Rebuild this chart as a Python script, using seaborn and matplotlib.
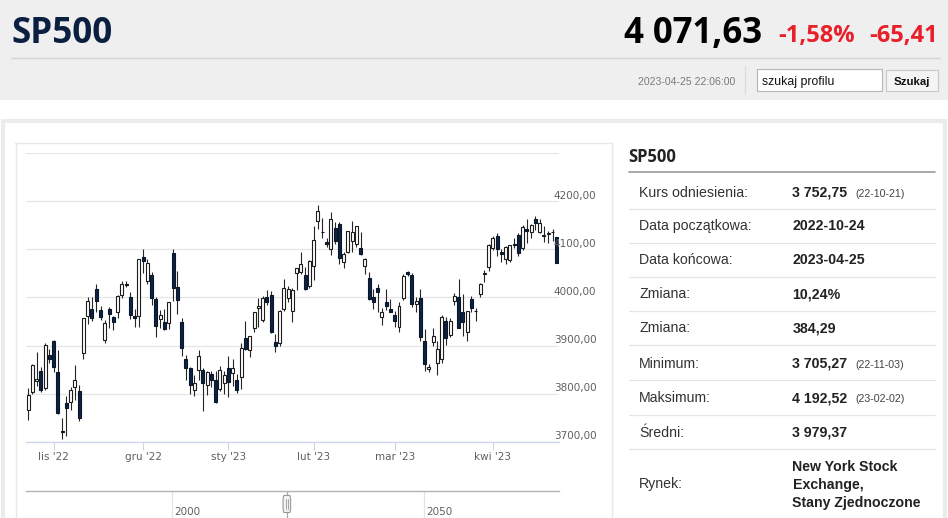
import numpy as np
import pandas as pd
import matplotlib
matplotlib.use("Agg")
import matplotlib.pyplot as plt
import matplotlib.patches as mpatches
import matplotlib.transforms as mtransforms
from matplotlib.lines import Line2D
import seaborn as sns

# sesje (2022-12-07 brak w danych zrodla)
dates = [
    "2022-10-24", "2022-10-25", "2022-10-26", "2022-10-27", "2022-10-28", "2022-10-31",
    "2022-11-01", "2022-11-02", "2022-11-03", "2022-11-04", "2022-11-07", "2022-11-08", "2022-11-09",
    "2022-11-10", "2022-11-11", "2022-11-14", "2022-11-15", "2022-11-16", "2022-11-17", "2022-11-18",
    "2022-11-21", "2022-11-22", "2022-11-23", "2022-11-25", "2022-11-28", "2022-11-29", "2022-11-30",
    "2022-12-01", "2022-12-02", "2022-12-05", "2022-12-06", "2022-12-08", "2022-12-09", "2022-12-12",
    "2022-12-13", "2022-12-14", "2022-12-15", "2022-12-16", "2022-12-19", "2022-12-20", "2022-12-21",
    "2022-12-22", "2022-12-23", "2022-12-27", "2022-12-28", "2022-12-29", "2022-12-30",
    "2023-01-03", "2023-01-04", "2023-01-05", "2023-01-06", "2023-01-09", "2023-01-10", "2023-01-11",
    "2023-01-12", "2023-01-13", "2023-01-17", "2023-01-18", "2023-01-19", "2023-01-20", "2023-01-23",
    "2023-01-24", "2023-01-25", "2023-01-26", "2023-01-27", "2023-01-30", "2023-01-31",
    "2023-02-01", "2023-02-02", "2023-02-03", "2023-02-06", "2023-02-07", "2023-02-08", "2023-02-09",
    "2023-02-10", "2023-02-13", "2023-02-14", "2023-02-15", "2023-02-16", "2023-02-17", "2023-02-21",
    "2023-02-22", "2023-02-23", "2023-02-24", "2023-02-27", "2023-02-28",
    "2023-03-01", "2023-03-02", "2023-03-03", "2023-03-06", "2023-03-07", "2023-03-08", "2023-03-09",
    "2023-03-10", "2023-03-13", "2023-03-14", "2023-03-15", "2023-03-16", "2023-03-17", "2023-03-20",
    "2023-03-21", "2023-03-22", "2023-03-23", "2023-03-24", "2023-03-27", "2023-03-28", "2023-03-29",
    "2023-03-30", "2023-03-31",
    "2023-04-03", "2023-04-04", "2023-04-05", "2023-04-06", "2023-04-10", "2023-04-11", "2023-04-12",
    "2023-04-13", "2023-04-14", "2023-04-17", "2023-04-18", "2023-04-19", "2023-04-20", "2023-04-21",
    "2023-04-24", "2023-04-25",
]
opens = [
    3766, 3803, 3826, 3848, 3811, 3880,
    3910, 3844, 3722, 3781, 3783, 3814, 3806,
    3885, 3961, 3975, 4018, 3974, 3912, 3975,
    3959, 3970, 4005, 4027, 4000, 3961, 3962,
    4085, 4034, 4047, 3996, 3955, 3948, 3946,
    4093, 4021, 3948, 3871, 3853, 3808, 3849,
    3849, 3818, 3841, 3828, 3809, 3823,
    3853, 3842, 3828, 3835, 3915, 3891, 3936,
    3979, 3953, 4001, 4005, 3908, 3906, 3975,
    3998, 3972, 4050, 4052, 4047, 4024,
    4066, 4158, 4137, 4115, 4101, 4144, 4152,
    4074, 4095, 4118, 4111, 4102, 4066, 4040,
    4001, 4020, 3960, 3991, 3977,
    3964, 3939, 3998, 4052, 4047, 3987, 3999,
    3909, 3851, 3908, 3864, 3871, 3952, 3922,
    3993, 4001, 3970, 3929, 3996, 3972, 4007,
    4048, 4063,
    4102, 4128, 4095, 4079, 4078, 4111, 4130,
    4102, 4142, 4137, 4163, 4137, 4127, 4131,
    4136, 4126,
]
highs = [
    3811, 3862, 3886, 3855, 3905, 3893,
    3912, 3891, 3750, 3796, 3814, 3859, 3818,
    3958, 4001, 4000, 4029, 3983, 3954, 3980,
    3962, 4006, 4034, 4034, 4012, 3977, 4080.11,
    4100, 4080, 4052, 4001, 3974, 3977, 3991,
    4101, 4054, 3958, 3881, 3855, 3838, 3890,
    3853, 3846, 3847, 3848, 3858, 3846,
    3878, 3873, 3840, 3906, 3951, 3920, 3970,
    3998, 4004, 4015, 4014, 3923, 3973, 4039,
    4024, 4020, 4062, 4094, 4064, 4077,
    4149, 4192.52, 4166, 4124, 4177, 4157, 4156,
    4094, 4139, 4160, 4148, 4137, 4082, 4052,
    4017, 4028, 3978, 4018, 3997,
    3972, 3991, 4048, 4056, 4050, 4000, 4018,
    3934, 3862, 3937, 3910, 3964, 3959, 3957,
    4009, 4039, 4007, 3972, 4003, 3979, 4031,
    4058, 4111,
    4128, 4133, 4100, 4107, 4110, 4124, 4134,
    4150, 4163, 4152, 4169, 4163, 4149, 4138,
    4142, 4126.43,
]
lows = [
    3745, 3800, 3815, 3803, 3808, 3863,
    3844, 3758, 3705.27, 3712, 3765, 3786, 3744,
    3873, 3945, 3952, 3970, 3954, 3906, 3936,
    3933, 3957, 3999, 4021, 3956, 3938, 3939,
    4051, 4027, 3984, 3918, 3936, 3933, 3935,
    3993, 3966, 3879, 3828, 3800, 3796, 3828,
    3764, 3797, 3813, 3781, 3806, 3800,
    3794, 3816, 3802, 3810, 3890, 3877, 3929,
    3938, 3948, 3985, 3927, 3886, 3898, 3972,
    3990, 3949, 4015, 4049, 4016, 4020,
    4037, 4142, 4123, 4104, 4088, 4112, 4070,
    4061, 4093, 4095, 4104, 4089, 4048, 3995,
    3977, 3969, 3943, 3974, 3969,
    3939, 3928, 3995, 4045, 3980, 3970, 3909,
    3846, 3845, 3898, 3838, 3864, 3901, 3917,
    3985, 3936, 3919, 3909, 3970, 3952, 4000,
    4032, 4056,
    4099, 4087, 4073, 4070, 4073, 4103, 4087,
    4099, 4113, 4123, 4140, 4134, 4115, 4114,
    4118, 4071.38,
]
closes = [
    3797.34, 3859.11, 3830.60, 3807.30, 3901.06, 3871.98,
    3856.10, 3759.69, 3719.89, 3770.55, 3806.80, 3828.11, 3748.57,
    3956.37, 3992.93, 3957.25, 3991.73, 3958.79, 3946.56, 3965.34,
    3949.94, 4003.58, 4027.26, 4026.12, 3963.94, 3957.63, 4080.11,
    4076.57, 4071.70, 3998.84, 3941.26, 3963.51, 3934.38, 3990.56,
    4019.65, 3995.32, 3895.75, 3852.36, 3817.66, 3821.62, 3878.44,
    3822.39, 3844.82, 3829.25, 3783.22, 3849.28, 3839.50,
    3824.14, 3852.97, 3808.10, 3895.08, 3892.09, 3919.25, 3969.61,
    3983.17, 3999.09, 3990.97, 3928.86, 3898.85, 3972.61, 4019.81,
    4016.95, 4016.22, 4060.43, 4070.56, 4017.77, 4076.60,
    4119.21, 4179.76, 4136.48, 4111.08, 4164.00, 4117.86, 4081.50,
    4090.46, 4137.29, 4136.13, 4147.60, 4090.41, 4079.09, 3997.34,
    3991.05, 4012.32, 3970.04, 3982.24, 3970.15,
    3951.39, 3981.35, 4045.64, 4048.42, 3986.37, 3992.01, 3918.32,
    3861.59, 3855.76, 3919.29, 3891.93, 3960.28, 3916.64, 3951.57,
    4002.87, 3936.97, 3948.72, 3970.99, 3977.53, 3971.27, 4027.81,
    4050.83, 4109.31,
    4124.51, 4100.60, 4090.38, 4105.02, 4109.11, 4108.94, 4091.95,
    4146.22, 4137.64, 4151.32, 4154.87, 4154.52, 4129.79, 4133.52,
    4137.04, 4071.63,
]

month_ticks = ["2022-11-01", "2022-12-01", "2023-01-03", "2023-02-01", "2023-03-01", "2023-04-03"]
month_labels = ["lis '22", "gru '22", "sty '23", "lut '23", "mar '23", "kwi '23"]
grid_levels = [3700, 3800, 3900, 4000, 4100, 4200, 4300]
price_labels = ["3700,00", "3800,00", "3900,00", "4000,00", "4100,00", "4200,00"]
nav_ticks = [2000, 2050]
nav_handle = 2022.8

table_labels = ["Kurs odniesienia:", "Data początkowa:", "Data końcowa:", "Zmiana:", "Zmiana:",
                "Minimum:", "Maksimum:", "Średni:"]
table_values = ["3 752,75", "2022-10-24", "2023-04-25", "10,24%", "384,29",
                "3 705,27", "4 192,52", "3 979,37"]
table_notes = ["(22-10-21)", "", "", "", "", "(22-11-03)", "(23-02-02)", ""]
market_label = "Rynek:"
market_lines = ["New York Stock", "Exchange,", "Stany Zjednoczone"]

sns.set_theme(style="white")
plt.rcParams["font.family"] = ["DejaVu Sans"]

W, H = 948, 518
fig = plt.figure(figsize=(W / 100, H / 100), dpi=100)
fig.patch.set_facecolor("white")


def fx(x):
    return x / W


def fy(y):
    return 1 - y / H


def ptext(x, y, s, **kw):
    fig.text(fx(x), fy(y), s, va="baseline", **kw)


def hline(x0, x1, y, color, lw=0.72, z=-1):
    fig.add_artist(Line2D([fx(x0), fx(x1)], [fy(y), fy(y)], color=color, lw=lw,
                          transform=fig.transFigure, zorder=z))


def vline(x, y0, y1, color, lw=0.72, z=-1):
    fig.add_artist(Line2D([fx(x), fx(x)], [fy(y0), fy(y1)], color=color, lw=lw,
                          transform=fig.transFigure, zorder=z))


def prect(x0, y0, x1, y1, z=-2, **kw):
    fig.add_artist(mpatches.Rectangle((fx(x0), fy(y1)), fx(x1) - fx(x0), fy(y0) - fy(y1),
                                      transform=fig.transFigure, zorder=z, **kw))


# naglowek
prect(0, 0, 948, 100, facecolor="#efefef", edgecolor="none")
hline(11, 940, 57.7, "#d4d4d4", 1.0)
head = dict(family=["Open Sans", "DejaVu Sans"], weight="bold")
ptext(11, 42.7, "SP500", color="#0b1f40", fontsize=25.2, **head)
ptext(762, 43.3, "4 071,63", color="black", fontsize=25, ha="right", **head)
ptext(778, 41.7, "-1,58%", color="#e8202a", fontsize=17, **head)
ptext(938, 41.7, "-65,41", color="#e8202a", fontsize=17, ha="right", **head)
arial = ["Liberation Sans", "DejaVu Sans"]
ptext(735, 85, "2023-04-25 22:06:00", color="#7a7a7a", fontsize=7.6, ha="right", family=arial)
vline(745, 66, 94, "#dcdcdc", 1.0)
prect(757, 69, 881.5, 91, z=-1, facecolor="white", edgecolor="#b5b5b5", lw=0.8)
ptext(761.5, 84.5, "szukaj profilu", color="#111111", fontsize=8.8, family=arial)
prect(886, 69.5, 937.5, 91, z=-1, facecolor="#f4f4f4", edgecolor="#c8c8c8", lw=0.8)
ptext(911.7, 84.5, "Szukaj", color="#111111", fontsize=8.2, weight="bold", ha="center", family=arial)

# karta
prect(3, 121, 945, 530, z=-2, facecolor="white", edgecolor="#ebebeb", lw=3)
hline(15, 612, 143.3, "#e8e8e8", 1.0)
vline(15.5, 143.3, 518, "#e8e8e8", 1.0)
vline(612, 143.3, 518, "#e8e8e8", 1.0)

# wykres swiecowy
df = pd.DataFrame({"date": dates, "open": opens, "high": highs, "low": lows, "close": closes})
df["pos"] = np.arange(len(df))
up = df["close"] >= df["open"]

ax = fig.add_axes([fx(25.9), fy(441.7), 533 / W, 288.5 / H])
ax.set_zorder(5)
ax.set_facecolor("none")
ax.set_xlim(-0.5, len(df) - 0.5)
ax.set_ylim(grid_levels[0], grid_levels[-1])
ax.set_yticks(grid_levels)
ax.set_yticklabels([])
ax.tick_params(axis="y", length=0)
ax.grid(axis="y", color="#e6e6e6", lw=0.9)
ax.grid(axis="x", visible=False)
ax.set_axisbelow(True)
sns.despine(ax=ax, left=True, right=True, top=True)
ax.spines["bottom"].set_color("#ccd6eb")
ax.spines["bottom"].set_linewidth(0.9)

ax.vlines(df["pos"], df["low"], df["high"], color="#262626", lw=0.8, zorder=2)
ax.bar(df["pos"][up], (df["close"] - df["open"])[up], bottom=df["open"][up], width=0.7,
       color="white", edgecolor="#1c1c1c", linewidth=0.8, zorder=3)
ax.bar(df["pos"][~up], (df["open"] - df["close"])[~up], bottom=df["close"][~up], width=0.7,
       color="#0c2344", edgecolor="#0a1628", linewidth=0.8, zorder=3)

tick_pos = [dates.index(d) for d in month_ticks]
ax.set_xticks(tick_pos)
ax.set_xticklabels(month_labels, fontsize=7.5, color="#606060")
ax.tick_params(axis="x", length=6, width=0.8, color="#ccd6eb", pad=1.5, bottom=True)

lab_tr = mtransforms.offset_copy(ax.get_yaxis_transform(), fig=fig, x=0, y=1.8, units="points")
for lvl, lbl in zip(grid_levels, price_labels):
    ax.text(0.9905, lvl, lbl, transform=lab_tr, fontsize=7.5, color="#606060",
            ha="left", va="baseline", clip_on=False)

# nawigator
nav = fig.add_axes([fx(25.9), fy(518), 533 / W, (518 - 490.5) / H])
nav.set_zorder(5)
nav.set_facecolor("none")
nav.set_xlim(1971.0, 2076.8)
nav.set_ylim(0, 1)
nav.set_xticks([])
nav.set_yticks([])
for s in ["left", "right", "bottom"]:
    nav.spines[s].set_visible(False)
nav.spines["top"].set_color("#b3b3b3")
nav.spines["top"].set_linewidth(1.0)
for t in nav_ticks:
    nav.axvline(t, color="#e3e3e3", lw=0.9)
    nav.text(t + 0.45, 0.12, str(t), fontsize=7.5, color="#606060", va="baseline")
nav.axvline(nav_handle, color="#a8a8a8", lw=0.9)
nav.add_patch(mpatches.FancyBboxPatch((nav_handle - 0.75, 0.2), 1.5, 0.62,
                                      boxstyle="round,pad=0,rounding_size=0.2",
                                      facecolor="#f2f2f2", edgecolor="#999999", lw=0.8, zorder=3))
for dx in (-0.22, 0.22):
    nav.plot([nav_handle + dx, nav_handle + dx], [0.32, 0.7], color="#999999", lw=0.6, zorder=4)

# tabela
ptext(628, 162, "SP500", color="#222222", fontsize=12, family=["Open Sans", "DejaVu Sans"], weight="bold")
hline(629, 935, 172.3, "#9a9a9a", 1.2)
row_seps = [209, 242.7, 276.7, 310.7, 345, 380, 415, 449.3]
for i, lbl in enumerate(table_labels):
    base = row_seps[i] - 12.5
    ptext(639, base, lbl, color="#333333", fontsize=10.2, family=arial)
    ptext(792.5, base, table_values[i], color="#222222", fontsize=10.2, weight="bold", family=arial)
    if table_notes[i]:
        ptext(855, base, table_notes[i], color="#444444", fontsize=7.7, family=arial)
    hline(629, 935, row_seps[i], "#e6e6e6", 0.9)
ptext(639, 488.3, market_label, color="#333333", fontsize=10.2, family=arial)
for k, line in enumerate(market_lines):
    ptext(792.5, 471 + 17.8 * k, line, color="#222222", fontsize=10.2, weight="bold", family=arial)

fig.savefig("out.png", dpi=100)
